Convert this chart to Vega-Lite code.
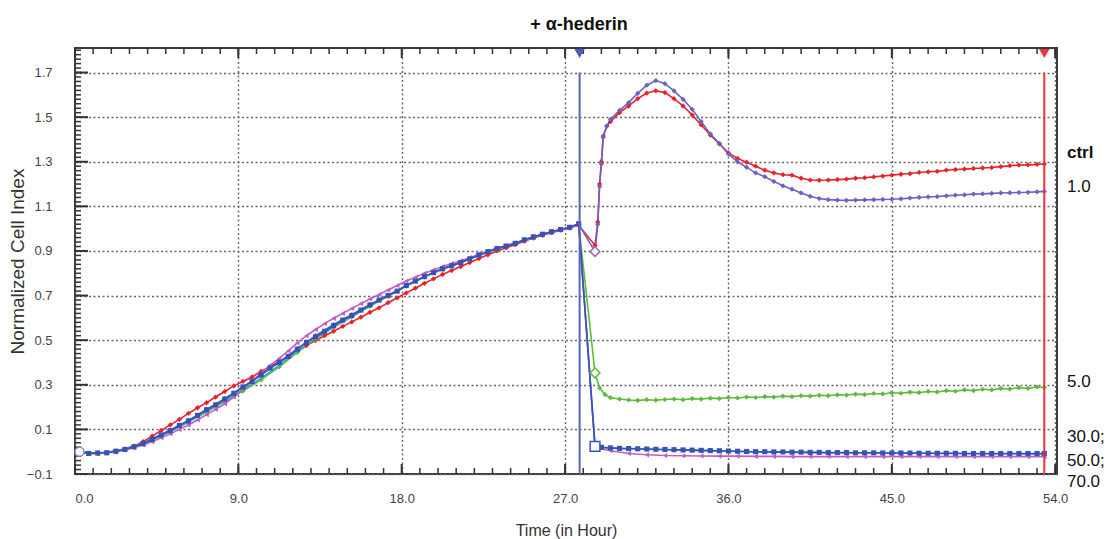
{
  "$schema": "https://vega.github.io/schema/vega-lite/v6.json",
  "width": 982,
  "height": 426,
  "autosize": {"type": "none"},
  "padding": {"left": 75, "top": 48, "right": 52, "bottom": 65},
  "background": "white",
  "title": {"text": "+ α-hederin", "fontSize": 18, "fontWeight": "bold", "font": "Liberation Sans", "color": "#111", "anchor": "middle", "dx": 13, "offset": 14},
  "config": {
    "view": {"stroke": "#3a3a3a", "strokeWidth": 2},
    "axis": {"domain": false, "ticks": false, "gridColor": "#666", "gridDash": [2, 2.5], "gridWidth": 1.4, "gridOpacity": 1, "labelFont": "Liberation Sans", "labelFontSize": 13, "labelColor": "#444", "titleFont": "Liberation Sans", "titleFontWeight": "normal", "titleColor": "#333"}
  },
  "datasets": {
    "events": [{"event": "treatment", "h": 27.8}, {"event": "end", "h": 53.4}],
    "open": [{"dose": "1.0", "h": 28.65, "ci": 0.897}, {"dose": "5.0", "h": 28.65, "ci": 0.353}, {"dose": "70.0", "h": 28.65, "ci": 0.024}],
    "labels": [{"label": "ctrl", "h": 54.65, "ci": 1.338}, {"label": "1.0", "h": 54.65, "ci": 1.186}, {"label": "5.0", "h": 54.65, "ci": 0.314}, {"label": "30.0;", "h": 54.65, "ci": 0.068}, {"label": "50.0;", "h": 54.65, "ci": -0.04}, {"label": "70.0", "h": 54.65, "ci": -0.134}],
    "hours": [{"h":0},{"h":1},{"h":2},{"h":3},{"h":4},{"h":5},{"h":6},{"h":7},{"h":8},{"h":9},{"h":10},{"h":11},{"h":12},{"h":13},{"h":14},{"h":15},{"h":16},{"h":17},{"h":18},{"h":19},{"h":20},{"h":21},{"h":22},{"h":23},{"h":24},{"h":25},{"h":26},{"h":27},{"h":28},{"h":29},{"h":30},{"h":31},{"h":32},{"h":33},{"h":34},{"h":35},{"h":36},{"h":37},{"h":38},{"h":39},{"h":40},{"h":41},{"h":42},{"h":43},{"h":44},{"h":45},{"h":46},{"h":47},{"h":48},{"h":49},{"h":50},{"h":51},{"h":52},{"h":53},{"h":54}],
    "levels": [{"ci":-0.1},{"ci":-0.08},{"ci":-0.06},{"ci":-0.04},{"ci":-0.02},{"ci":0},{"ci":0.02},{"ci":0.04},{"ci":0.06},{"ci":0.08},{"ci":0.1},{"ci":0.12},{"ci":0.14},{"ci":0.16},{"ci":0.18},{"ci":0.2},{"ci":0.22},{"ci":0.24},{"ci":0.26},{"ci":0.28},{"ci":0.3},{"ci":0.32},{"ci":0.34},{"ci":0.36},{"ci":0.38},{"ci":0.4},{"ci":0.42},{"ci":0.44},{"ci":0.46},{"ci":0.48},{"ci":0.5},{"ci":0.52},{"ci":0.54},{"ci":0.56},{"ci":0.58},{"ci":0.6},{"ci":0.62},{"ci":0.64},{"ci":0.66},{"ci":0.68},{"ci":0.7},{"ci":0.72},{"ci":0.74},{"ci":0.76},{"ci":0.78},{"ci":0.8},{"ci":0.82},{"ci":0.84},{"ci":0.86},{"ci":0.88},{"ci":0.9},{"ci":0.92},{"ci":0.94},{"ci":0.96},{"ci":0.98},{"ci":1.0},{"ci":1.02},{"ci":1.04},{"ci":1.06},{"ci":1.08},{"ci":1.1},{"ci":1.12},{"ci":1.14},{"ci":1.16},{"ci":1.18},{"ci":1.2},{"ci":1.22},{"ci":1.24},{"ci":1.26},{"ci":1.28},{"ci":1.3},{"ci":1.32},{"ci":1.34},{"ci":1.36},{"ci":1.38},{"ci":1.4},{"ci":1.42},{"ci":1.44},{"ci":1.46},{"ci":1.48},{"ci":1.5},{"ci":1.52},{"ci":1.54},{"ci":1.56},{"ci":1.58},{"ci":1.6},{"ci":1.62},{"ci":1.64},{"ci":1.66},{"ci":1.68},{"ci":1.7},{"ci":1.72},{"ci":1.74},{"ci":1.76},{"ci":1.78},{"ci":1.8}],
    "cells": [
{"dose":"ctrl","h":0.25,"ci":0.0},{"dose":"ctrl","h":0.75,"ci":-0.008},{"dose":"ctrl","h":1.25,"ci":-0.006},{"dose":"ctrl","h":1.75,"ci":-0.004},{"dose":"ctrl","h":2.25,"ci":0.003},{"dose":"ctrl","h":2.75,"ci":0.012},{"dose":"ctrl","h":3.25,"ci":0.025},{"dose":"ctrl","h":3.75,"ci":0.045},{"dose":"ctrl","h":4.25,"ci":0.07},{"dose":"ctrl","h":4.75,"ci":0.095},{"dose":"ctrl","h":5.25,"ci":0.12},{"dose":"ctrl","h":5.75,"ci":0.145},{"dose":"ctrl","h":6.25,"ci":0.172},{"dose":"ctrl","h":6.75,"ci":0.197},{"dose":"ctrl","h":7.25,"ci":0.22},{"dose":"ctrl","h":7.75,"ci":0.245},{"dose":"ctrl","h":8.25,"ci":0.27},{"dose":"ctrl","h":8.75,"ci":0.295},{"dose":"ctrl","h":9.25,"ci":0.315},{"dose":"ctrl","h":9.75,"ci":0.335},{"dose":"ctrl","h":10.25,"ci":0.36},{"dose":"ctrl","h":10.75,"ci":0.382},{"dose":"ctrl","h":11.25,"ci":0.405},{"dose":"ctrl","h":11.75,"ci":0.428},{"dose":"ctrl","h":12.25,"ci":0.452},{"dose":"ctrl","h":12.75,"ci":0.476},{"dose":"ctrl","h":13.25,"ci":0.498},{"dose":"ctrl","h":13.75,"ci":0.52},{"dose":"ctrl","h":14.25,"ci":0.54},{"dose":"ctrl","h":14.75,"ci":0.562},{"dose":"ctrl","h":15.25,"ci":0.582},{"dose":"ctrl","h":15.75,"ci":0.603},{"dose":"ctrl","h":16.25,"ci":0.625},{"dose":"ctrl","h":16.75,"ci":0.645},{"dose":"ctrl","h":17.25,"ci":0.668},{"dose":"ctrl","h":17.75,"ci":0.69},{"dose":"ctrl","h":18.25,"ci":0.712},{"dose":"ctrl","h":18.75,"ci":0.733},{"dose":"ctrl","h":19.25,"ci":0.755},{"dose":"ctrl","h":19.75,"ci":0.775},{"dose":"ctrl","h":20.25,"ci":0.795},{"dose":"ctrl","h":20.75,"ci":0.812},{"dose":"ctrl","h":21.25,"ci":0.83},{"dose":"ctrl","h":21.75,"ci":0.848},{"dose":"ctrl","h":22.25,"ci":0.866},{"dose":"ctrl","h":22.75,"ci":0.883},{"dose":"ctrl","h":23.25,"ci":0.9},{"dose":"ctrl","h":23.75,"ci":0.914},{"dose":"ctrl","h":24.25,"ci":0.928},{"dose":"ctrl","h":24.75,"ci":0.944},{"dose":"ctrl","h":25.25,"ci":0.958},{"dose":"ctrl","h":25.75,"ci":0.97},{"dose":"ctrl","h":26.25,"ci":0.982},{"dose":"ctrl","h":26.75,"ci":0.993},{"dose":"ctrl","h":27.25,"ci":1.003},{"dose":"ctrl","h":27.75,"ci":1.015},
{"dose":"ctrl","h":28.65,"ci":0.925},{"dose":"ctrl","h":28.8,"ci":1.03},{"dose":"ctrl","h":28.9,"ci":1.2},{"dose":"ctrl","h":29.0,"ci":1.3},{"dose":"ctrl","h":29.1,"ci":1.415},{"dose":"ctrl","h":29.3,"ci":1.46},{"dose":"ctrl","h":29.5,"ci":1.48},{"dose":"ctrl","h":30.0,"ci":1.52},{"dose":"ctrl","h":30.5,"ci":1.55},{"dose":"ctrl","h":31.0,"ci":1.583},{"dose":"ctrl","h":31.5,"ci":1.608},{"dose":"ctrl","h":32.0,"ci":1.618},{"dose":"ctrl","h":32.5,"ci":1.61},{"dose":"ctrl","h":33.0,"ci":1.583},{"dose":"ctrl","h":33.5,"ci":1.55},{"dose":"ctrl","h":34.0,"ci":1.51},{"dose":"ctrl","h":34.5,"ci":1.465},{"dose":"ctrl","h":35.0,"ci":1.42},{"dose":"ctrl","h":35.5,"ci":1.38},{"dose":"ctrl","h":36.0,"ci":1.34},{"dose":"ctrl","h":36.5,"ci":1.315},{"dose":"ctrl","h":37.0,"ci":1.298},{"dose":"ctrl","h":37.5,"ci":1.28},{"dose":"ctrl","h":38.0,"ci":1.262},{"dose":"ctrl","h":38.5,"ci":1.25},{"dose":"ctrl","h":39.0,"ci":1.242},{"dose":"ctrl","h":39.5,"ci":1.24},{"dose":"ctrl","h":40.0,"ci":1.226},{"dose":"ctrl","h":40.5,"ci":1.218},{"dose":"ctrl","h":41.0,"ci":1.217},{"dose":"ctrl","h":41.5,"ci":1.218},{"dose":"ctrl","h":42.0,"ci":1.22},{"dose":"ctrl","h":42.5,"ci":1.222},{"dose":"ctrl","h":43.0,"ci":1.226},{"dose":"ctrl","h":43.5,"ci":1.228},{"dose":"ctrl","h":44.0,"ci":1.232},{"dose":"ctrl","h":44.5,"ci":1.236},{"dose":"ctrl","h":45.0,"ci":1.24},{"dose":"ctrl","h":45.5,"ci":1.244},{"dose":"ctrl","h":46.0,"ci":1.247},{"dose":"ctrl","h":46.5,"ci":1.252},{"dose":"ctrl","h":47.0,"ci":1.255},{"dose":"ctrl","h":47.5,"ci":1.257},{"dose":"ctrl","h":48.0,"ci":1.262},{"dose":"ctrl","h":48.5,"ci":1.265},{"dose":"ctrl","h":49.0,"ci":1.267},{"dose":"ctrl","h":49.5,"ci":1.27},{"dose":"ctrl","h":50.0,"ci":1.272},{"dose":"ctrl","h":50.5,"ci":1.274},{"dose":"ctrl","h":51.0,"ci":1.278},{"dose":"ctrl","h":51.5,"ci":1.282},{"dose":"ctrl","h":52.0,"ci":1.285},{"dose":"ctrl","h":52.5,"ci":1.286},{"dose":"ctrl","h":53.0,"ci":1.288},{"dose":"ctrl","h":53.4,"ci":1.29},
{"dose":"1.0","h":0.25,"ci":0.0},{"dose":"1.0","h":1.25,"ci":-0.006},{"dose":"1.0","h":2.25,"ci":0.003},{"dose":"1.0","h":3.25,"ci":0.024},{"dose":"1.0","h":4.25,"ci":0.058},{"dose":"1.0","h":5.25,"ci":0.097},{"dose":"1.0","h":6.25,"ci":0.14},{"dose":"1.0","h":7.25,"ci":0.19},{"dose":"1.0","h":8.25,"ci":0.238},{"dose":"1.0","h":9.25,"ci":0.29},{"dose":"1.0","h":10.25,"ci":0.345},{"dose":"1.0","h":11.25,"ci":0.402},{"dose":"1.0","h":12.25,"ci":0.462},{"dose":"1.0","h":13.25,"ci":0.52},{"dose":"1.0","h":14.25,"ci":0.57},{"dose":"1.0","h":15.25,"ci":0.615},{"dose":"1.0","h":16.25,"ci":0.66},{"dose":"1.0","h":17.25,"ci":0.702},{"dose":"1.0","h":18.25,"ci":0.745},{"dose":"1.0","h":19.25,"ci":0.785},{"dose":"1.0","h":20.25,"ci":0.82},{"dose":"1.0","h":21.25,"ci":0.849},{"dose":"1.0","h":22.25,"ci":0.882},{"dose":"1.0","h":23.25,"ci":0.911},{"dose":"1.0","h":24.25,"ci":0.934},{"dose":"1.0","h":25.25,"ci":0.963},{"dose":"1.0","h":26.25,"ci":0.986},{"dose":"1.0","h":27.25,"ci":1.006},{"dose":"1.0","h":27.75,"ci":1.02},
{"dose":"1.0","h":28.65,"ci":0.897},{"dose":"1.0","h":28.8,"ci":1.02},{"dose":"1.0","h":28.9,"ci":1.19},{"dose":"1.0","h":29.0,"ci":1.29},{"dose":"1.0","h":29.1,"ci":1.41},{"dose":"1.0","h":29.3,"ci":1.46},{"dose":"1.0","h":29.5,"ci":1.49},{"dose":"1.0","h":30.0,"ci":1.53},{"dose":"1.0","h":30.5,"ci":1.565},{"dose":"1.0","h":31.0,"ci":1.607},{"dose":"1.0","h":31.5,"ci":1.643},{"dose":"1.0","h":32.0,"ci":1.664},{"dose":"1.0","h":32.5,"ci":1.65},{"dose":"1.0","h":33.0,"ci":1.618},{"dose":"1.0","h":33.5,"ci":1.58},{"dose":"1.0","h":34.0,"ci":1.535},{"dose":"1.0","h":34.5,"ci":1.48},{"dose":"1.0","h":35.0,"ci":1.425},{"dose":"1.0","h":35.5,"ci":1.382},{"dose":"1.0","h":36.0,"ci":1.335},{"dose":"1.0","h":36.5,"ci":1.3},{"dose":"1.0","h":37.0,"ci":1.275},{"dose":"1.0","h":37.5,"ci":1.25},{"dose":"1.0","h":38.0,"ci":1.233},{"dose":"1.0","h":38.5,"ci":1.212},{"dose":"1.0","h":39.0,"ci":1.192},{"dose":"1.0","h":39.5,"ci":1.177},{"dose":"1.0","h":40.0,"ci":1.16},{"dose":"1.0","h":40.5,"ci":1.145},{"dose":"1.0","h":41.0,"ci":1.135},{"dose":"1.0","h":41.5,"ci":1.13},{"dose":"1.0","h":42.0,"ci":1.128},{"dose":"1.0","h":42.5,"ci":1.127},{"dose":"1.0","h":43.0,"ci":1.128},{"dose":"1.0","h":43.5,"ci":1.129},{"dose":"1.0","h":44.0,"ci":1.13},{"dose":"1.0","h":44.5,"ci":1.131},{"dose":"1.0","h":45.0,"ci":1.132},{"dose":"1.0","h":45.5,"ci":1.134},{"dose":"1.0","h":46.0,"ci":1.137},{"dose":"1.0","h":46.5,"ci":1.14},{"dose":"1.0","h":47.0,"ci":1.142},{"dose":"1.0","h":47.5,"ci":1.144},{"dose":"1.0","h":48.0,"ci":1.147},{"dose":"1.0","h":48.5,"ci":1.15},{"dose":"1.0","h":49.0,"ci":1.152},{"dose":"1.0","h":49.5,"ci":1.155},{"dose":"1.0","h":50.0,"ci":1.156},{"dose":"1.0","h":50.5,"ci":1.158},{"dose":"1.0","h":51.0,"ci":1.16},{"dose":"1.0","h":51.5,"ci":1.161},{"dose":"1.0","h":52.0,"ci":1.162},{"dose":"1.0","h":52.5,"ci":1.163},{"dose":"1.0","h":53.0,"ci":1.165},{"dose":"1.0","h":53.4,"ci":1.167},
{"dose":"5.0","h":0.25,"ci":0.0},{"dose":"5.0","h":1.25,"ci":-0.008},{"dose":"5.0","h":2.25,"ci":0.0},{"dose":"5.0","h":3.25,"ci":0.02},{"dose":"5.0","h":4.25,"ci":0.052},{"dose":"5.0","h":5.25,"ci":0.09},{"dose":"5.0","h":6.25,"ci":0.132},{"dose":"5.0","h":7.25,"ci":0.178},{"dose":"5.0","h":8.25,"ci":0.225},{"dose":"5.0","h":9.25,"ci":0.272},{"dose":"5.0","h":10.25,"ci":0.322},{"dose":"5.0","h":11.25,"ci":0.38},{"dose":"5.0","h":12.25,"ci":0.445},{"dose":"5.0","h":13.25,"ci":0.505},{"dose":"5.0","h":14.25,"ci":0.558},{"dose":"5.0","h":15.25,"ci":0.605},{"dose":"5.0","h":16.25,"ci":0.652},{"dose":"5.0","h":17.25,"ci":0.697},{"dose":"5.0","h":18.25,"ci":0.742},{"dose":"5.0","h":19.25,"ci":0.783},{"dose":"5.0","h":20.25,"ci":0.818},{"dose":"5.0","h":21.25,"ci":0.847},{"dose":"5.0","h":22.25,"ci":0.88},{"dose":"5.0","h":23.25,"ci":0.909},{"dose":"5.0","h":24.25,"ci":0.933},{"dose":"5.0","h":25.25,"ci":0.962},{"dose":"5.0","h":26.25,"ci":0.985},{"dose":"5.0","h":27.25,"ci":1.005},{"dose":"5.0","h":27.75,"ci":1.02},
{"dose":"5.0","h":28.65,"ci":0.353},{"dose":"5.0","h":28.9,"ci":0.286},{"dose":"5.0","h":29.2,"ci":0.256},{"dose":"5.0","h":29.5,"ci":0.242},{"dose":"5.0","h":30.0,"ci":0.236},{"dose":"5.0","h":30.5,"ci":0.232},{"dose":"5.0","h":31.0,"ci":0.23},{"dose":"5.0","h":31.5,"ci":0.233},{"dose":"5.0","h":32.0,"ci":0.231},{"dose":"5.0","h":32.5,"ci":0.234},{"dose":"5.0","h":33.0,"ci":0.236},{"dose":"5.0","h":33.5,"ci":0.233},{"dose":"5.0","h":34.0,"ci":0.238},{"dose":"5.0","h":34.5,"ci":0.236},{"dose":"5.0","h":35.0,"ci":0.24},{"dose":"5.0","h":35.5,"ci":0.238},{"dose":"5.0","h":36.0,"ci":0.243},{"dose":"5.0","h":36.5,"ci":0.241},{"dose":"5.0","h":37.0,"ci":0.245},{"dose":"5.0","h":37.5,"ci":0.243},{"dose":"5.0","h":38.0,"ci":0.247},{"dose":"5.0","h":38.5,"ci":0.245},{"dose":"5.0","h":39.0,"ci":0.249},{"dose":"5.0","h":39.5,"ci":0.247},{"dose":"5.0","h":40.0,"ci":0.251},{"dose":"5.0","h":40.5,"ci":0.249},{"dose":"5.0","h":41.0,"ci":0.253},{"dose":"5.0","h":41.5,"ci":0.251},{"dose":"5.0","h":42.0,"ci":0.255},{"dose":"5.0","h":42.5,"ci":0.254},{"dose":"5.0","h":43.0,"ci":0.258},{"dose":"5.0","h":43.5,"ci":0.256},{"dose":"5.0","h":44.0,"ci":0.261},{"dose":"5.0","h":44.5,"ci":0.259},{"dose":"5.0","h":45.0,"ci":0.264},{"dose":"5.0","h":45.5,"ci":0.262},{"dose":"5.0","h":46.0,"ci":0.267},{"dose":"5.0","h":46.5,"ci":0.265},{"dose":"5.0","h":47.0,"ci":0.27},{"dose":"5.0","h":47.5,"ci":0.268},{"dose":"5.0","h":48.0,"ci":0.274},{"dose":"5.0","h":48.5,"ci":0.271},{"dose":"5.0","h":49.0,"ci":0.277},{"dose":"5.0","h":49.5,"ci":0.274},{"dose":"5.0","h":50.0,"ci":0.28},{"dose":"5.0","h":50.5,"ci":0.277},{"dose":"5.0","h":51.0,"ci":0.284},{"dose":"5.0","h":51.5,"ci":0.281},{"dose":"5.0","h":52.0,"ci":0.287},{"dose":"5.0","h":52.5,"ci":0.284},{"dose":"5.0","h":53.0,"ci":0.29},{"dose":"5.0","h":53.4,"ci":0.288},
{"dose":"30.0","h":0.25,"ci":0.0},{"dose":"30.0","h":1.25,"ci":-0.007},{"dose":"30.0","h":2.25,"ci":0.001},{"dose":"30.0","h":3.25,"ci":0.021},{"dose":"30.0","h":4.25,"ci":0.053},{"dose":"30.0","h":5.25,"ci":0.092},{"dose":"30.0","h":6.25,"ci":0.135},{"dose":"30.0","h":7.25,"ci":0.183},{"dose":"30.0","h":8.25,"ci":0.23},{"dose":"30.0","h":9.25,"ci":0.278},{"dose":"30.0","h":10.25,"ci":0.33},{"dose":"30.0","h":11.25,"ci":0.388},{"dose":"30.0","h":12.25,"ci":0.45},{"dose":"30.0","h":13.25,"ci":0.508},{"dose":"30.0","h":14.25,"ci":0.56},{"dose":"30.0","h":15.25,"ci":0.607},{"dose":"30.0","h":16.25,"ci":0.655},{"dose":"30.0","h":17.25,"ci":0.699},{"dose":"30.0","h":18.25,"ci":0.744},{"dose":"30.0","h":19.25,"ci":0.784},{"dose":"30.0","h":20.25,"ci":0.819},{"dose":"30.0","h":21.25,"ci":0.848},{"dose":"30.0","h":22.25,"ci":0.881},{"dose":"30.0","h":23.25,"ci":0.91},{"dose":"30.0","h":24.25,"ci":0.933},{"dose":"30.0","h":25.25,"ci":0.962},{"dose":"30.0","h":26.25,"ci":0.985},{"dose":"30.0","h":27.25,"ci":1.005},{"dose":"30.0","h":27.75,"ci":1.02},
{"dose":"30.0","h":28.65,"ci":0.022},{"dose":"30.0","h":29.5,"ci":0.016},{"dose":"30.0","h":30.5,"ci":0.013},{"dose":"30.0","h":31.5,"ci":0.011},{"dose":"30.0","h":32.5,"ci":0.009},{"dose":"30.0","h":33.5,"ci":0.007},{"dose":"30.0","h":34.5,"ci":0.005},{"dose":"30.0","h":35.5,"ci":0.003},{"dose":"30.0","h":36.5,"ci":0.001},{"dose":"30.0","h":37.5,"ci":-0.001},{"dose":"30.0","h":38.5,"ci":-0.002},{"dose":"30.0","h":39.5,"ci":-0.003},{"dose":"30.0","h":40.5,"ci":-0.004},{"dose":"30.0","h":41.5,"ci":-0.005},{"dose":"30.0","h":42.5,"ci":-0.005},{"dose":"30.0","h":43.5,"ci":-0.006},{"dose":"30.0","h":44.5,"ci":-0.006},{"dose":"30.0","h":45.5,"ci":-0.007},{"dose":"30.0","h":46.5,"ci":-0.007},{"dose":"30.0","h":47.5,"ci":-0.008},{"dose":"30.0","h":48.5,"ci":-0.008},{"dose":"30.0","h":49.5,"ci":-0.009},{"dose":"30.0","h":50.5,"ci":-0.009},{"dose":"30.0","h":51.5,"ci":-0.009},{"dose":"30.0","h":52.5,"ci":-0.01},{"dose":"30.0","h":53.4,"ci":-0.01},
{"dose":"50.0","h":0.25,"ci":0.0},{"dose":"50.0","h":0.75,"ci":-0.01},{"dose":"50.0","h":1.25,"ci":-0.008},{"dose":"50.0","h":1.75,"ci":-0.006},{"dose":"50.0","h":2.25,"ci":0.0},{"dose":"50.0","h":2.75,"ci":0.008},{"dose":"50.0","h":3.25,"ci":0.018},{"dose":"50.0","h":3.75,"ci":0.03},{"dose":"50.0","h":4.25,"ci":0.045},{"dose":"50.0","h":4.75,"ci":0.062},{"dose":"50.0","h":5.25,"ci":0.08},{"dose":"50.0","h":5.75,"ci":0.1},{"dose":"50.0","h":6.25,"ci":0.12},{"dose":"50.0","h":6.75,"ci":0.142},{"dose":"50.0","h":7.25,"ci":0.166},{"dose":"50.0","h":7.75,"ci":0.19},{"dose":"50.0","h":8.25,"ci":0.215},{"dose":"50.0","h":8.75,"ci":0.245},{"dose":"50.0","h":9.25,"ci":0.28},{"dose":"50.0","h":9.75,"ci":0.318},{"dose":"50.0","h":10.25,"ci":0.352},{"dose":"50.0","h":10.75,"ci":0.386},{"dose":"50.0","h":11.25,"ci":0.418},{"dose":"50.0","h":11.75,"ci":0.452},{"dose":"50.0","h":12.25,"ci":0.488},{"dose":"50.0","h":12.75,"ci":0.52},{"dose":"50.0","h":13.25,"ci":0.548},{"dose":"50.0","h":13.75,"ci":0.574},{"dose":"50.0","h":14.25,"ci":0.598},{"dose":"50.0","h":14.75,"ci":0.62},{"dose":"50.0","h":15.25,"ci":0.642},{"dose":"50.0","h":15.75,"ci":0.664},{"dose":"50.0","h":16.25,"ci":0.685},{"dose":"50.0","h":16.75,"ci":0.705},{"dose":"50.0","h":17.25,"ci":0.725},{"dose":"50.0","h":17.75,"ci":0.745},{"dose":"50.0","h":18.25,"ci":0.765},{"dose":"50.0","h":18.75,"ci":0.782},{"dose":"50.0","h":19.25,"ci":0.8},{"dose":"50.0","h":19.75,"ci":0.815},{"dose":"50.0","h":20.25,"ci":0.83},{"dose":"50.0","h":20.75,"ci":0.843},{"dose":"50.0","h":21.25,"ci":0.856},{"dose":"50.0","h":21.75,"ci":0.87},{"dose":"50.0","h":22.25,"ci":0.885},{"dose":"50.0","h":22.75,"ci":0.9},{"dose":"50.0","h":23.25,"ci":0.913},{"dose":"50.0","h":23.75,"ci":0.924},{"dose":"50.0","h":24.25,"ci":0.936},{"dose":"50.0","h":24.75,"ci":0.95},{"dose":"50.0","h":25.25,"ci":0.963},{"dose":"50.0","h":25.75,"ci":0.975},{"dose":"50.0","h":26.25,"ci":0.985},{"dose":"50.0","h":26.75,"ci":0.995},{"dose":"50.0","h":27.25,"ci":1.005},{"dose":"50.0","h":27.75,"ci":1.02},
{"dose":"50.0","h":28.65,"ci":0.02},{"dose":"50.0","h":29.5,"ci":0.004},{"dose":"50.0","h":30.5,"ci":-0.008},{"dose":"50.0","h":31.5,"ci":-0.014},{"dose":"50.0","h":32.5,"ci":-0.017},{"dose":"50.0","h":33.5,"ci":-0.018},{"dose":"50.0","h":34.5,"ci":-0.019},{"dose":"50.0","h":35.5,"ci":-0.02},{"dose":"50.0","h":36.5,"ci":-0.02},{"dose":"50.0","h":37.5,"ci":-0.021},{"dose":"50.0","h":38.5,"ci":-0.021},{"dose":"50.0","h":39.5,"ci":-0.022},{"dose":"50.0","h":40.5,"ci":-0.022},{"dose":"50.0","h":41.5,"ci":-0.022},{"dose":"50.0","h":42.5,"ci":-0.022},{"dose":"50.0","h":43.5,"ci":-0.022},{"dose":"50.0","h":44.5,"ci":-0.022},{"dose":"50.0","h":45.5,"ci":-0.022},{"dose":"50.0","h":46.5,"ci":-0.022},{"dose":"50.0","h":47.5,"ci":-0.022},{"dose":"50.0","h":48.5,"ci":-0.022},{"dose":"50.0","h":49.5,"ci":-0.022},{"dose":"50.0","h":50.5,"ci":-0.022},{"dose":"50.0","h":51.5,"ci":-0.022},{"dose":"50.0","h":52.5,"ci":-0.022},{"dose":"50.0","h":53.4,"ci":-0.022},
{"dose":"70.0","h":0.25,"ci":0.0},{"dose":"70.0","h":0.75,"ci":-0.008},{"dose":"70.0","h":1.25,"ci":-0.006},{"dose":"70.0","h":1.75,"ci":-0.005},{"dose":"70.0","h":2.25,"ci":0.002},{"dose":"70.0","h":2.75,"ci":0.01},{"dose":"70.0","h":3.25,"ci":0.022},{"dose":"70.0","h":3.75,"ci":0.036},{"dose":"70.0","h":4.25,"ci":0.055},{"dose":"70.0","h":4.75,"ci":0.075},{"dose":"70.0","h":5.25,"ci":0.094},{"dose":"70.0","h":5.75,"ci":0.118},{"dose":"70.0","h":6.25,"ci":0.138},{"dose":"70.0","h":6.75,"ci":0.163},{"dose":"70.0","h":7.25,"ci":0.188},{"dose":"70.0","h":7.75,"ci":0.21},{"dose":"70.0","h":8.25,"ci":0.236},{"dose":"70.0","h":8.75,"ci":0.262},{"dose":"70.0","h":9.25,"ci":0.29},{"dose":"70.0","h":9.75,"ci":0.315},{"dose":"70.0","h":10.25,"ci":0.345},{"dose":"70.0","h":10.75,"ci":0.375},{"dose":"70.0","h":11.25,"ci":0.4},{"dose":"70.0","h":11.75,"ci":0.427},{"dose":"70.0","h":12.25,"ci":0.46},{"dose":"70.0","h":12.75,"ci":0.49},{"dose":"70.0","h":13.25,"ci":0.515},{"dose":"70.0","h":13.75,"ci":0.54},{"dose":"70.0","h":14.25,"ci":0.565},{"dose":"70.0","h":14.75,"ci":0.59},{"dose":"70.0","h":15.25,"ci":0.61},{"dose":"70.0","h":15.75,"ci":0.635},{"dose":"70.0","h":16.25,"ci":0.658},{"dose":"70.0","h":16.75,"ci":0.68},{"dose":"70.0","h":17.25,"ci":0.7},{"dose":"70.0","h":17.75,"ci":0.72},{"dose":"70.0","h":18.25,"ci":0.745},{"dose":"70.0","h":18.75,"ci":0.765},{"dose":"70.0","h":19.25,"ci":0.785},{"dose":"70.0","h":19.75,"ci":0.803},{"dose":"70.0","h":20.25,"ci":0.82},{"dose":"70.0","h":20.75,"ci":0.834},{"dose":"70.0","h":21.25,"ci":0.848},{"dose":"70.0","h":21.75,"ci":0.865},{"dose":"70.0","h":22.25,"ci":0.882},{"dose":"70.0","h":22.75,"ci":0.897},{"dose":"70.0","h":23.25,"ci":0.911},{"dose":"70.0","h":23.75,"ci":0.922},{"dose":"70.0","h":24.25,"ci":0.934},{"dose":"70.0","h":24.75,"ci":0.95},{"dose":"70.0","h":25.25,"ci":0.963},{"dose":"70.0","h":25.75,"ci":0.975},{"dose":"70.0","h":26.25,"ci":0.986},{"dose":"70.0","h":26.75,"ci":0.996},{"dose":"70.0","h":27.25,"ci":1.006},{"dose":"70.0","h":27.75,"ci":1.022},
{"dose":"70.0","h":28.65,"ci":0.024},{"dose":"70.0","h":29.0,"ci":0.02},{"dose":"70.0","h":29.5,"ci":0.017},{"dose":"70.0","h":30.0,"ci":0.015},{"dose":"70.0","h":30.5,"ci":0.014},{"dose":"70.0","h":31.0,"ci":0.013},{"dose":"70.0","h":31.5,"ci":0.012},{"dose":"70.0","h":32.0,"ci":0.011},{"dose":"70.0","h":32.5,"ci":0.01},{"dose":"70.0","h":33.0,"ci":0.009},{"dose":"70.0","h":33.5,"ci":0.008},{"dose":"70.0","h":34.0,"ci":0.007},{"dose":"70.0","h":34.5,"ci":0.006},{"dose":"70.0","h":35.0,"ci":0.005},{"dose":"70.0","h":35.5,"ci":0.004},{"dose":"70.0","h":36.0,"ci":0.003},{"dose":"70.0","h":36.5,"ci":0.002},{"dose":"70.0","h":37.0,"ci":0.001},{"dose":"70.0","h":37.5,"ci":0.0},{"dose":"70.0","h":38.0,"ci":0.0},{"dose":"70.0","h":38.5,"ci":-0.001},{"dose":"70.0","h":39.0,"ci":-0.001},{"dose":"70.0","h":39.5,"ci":-0.002},{"dose":"70.0","h":40.0,"ci":-0.002},{"dose":"70.0","h":40.5,"ci":-0.003},{"dose":"70.0","h":41.0,"ci":-0.003},{"dose":"70.0","h":41.5,"ci":-0.004},{"dose":"70.0","h":42.0,"ci":-0.004},{"dose":"70.0","h":42.5,"ci":-0.004},{"dose":"70.0","h":43.0,"ci":-0.005},{"dose":"70.0","h":43.5,"ci":-0.005},{"dose":"70.0","h":44.0,"ci":-0.005},{"dose":"70.0","h":44.5,"ci":-0.006},{"dose":"70.0","h":45.0,"ci":-0.006},{"dose":"70.0","h":45.5,"ci":-0.006},{"dose":"70.0","h":46.0,"ci":-0.006},{"dose":"70.0","h":46.5,"ci":-0.007},{"dose":"70.0","h":47.0,"ci":-0.007},{"dose":"70.0","h":47.5,"ci":-0.007},{"dose":"70.0","h":48.0,"ci":-0.007},{"dose":"70.0","h":48.5,"ci":-0.007},{"dose":"70.0","h":49.0,"ci":-0.008},{"dose":"70.0","h":49.5,"ci":-0.008},{"dose":"70.0","h":50.0,"ci":-0.008},{"dose":"70.0","h":50.5,"ci":-0.008},{"dose":"70.0","h":51.0,"ci":-0.008},{"dose":"70.0","h":51.5,"ci":-0.008},{"dose":"70.0","h":52.0,"ci":-0.008},{"dose":"70.0","h":52.5,"ci":-0.008},{"dose":"70.0","h":53.0,"ci":-0.008},{"dose":"70.0","h":53.4,"ci":-0.008}
    ]
  },
  "resolve": {"scale": {"color": "independent"}},
  "layer": [
    {
      "data": {"name": "cells"},
      "mark": {"type": "line", "strokeWidth": 1.6},
      "encoding": {
        "x": {"field": "h", "type": "quantitative", "scale": {"domain": [0, 54.1], "nice": false, "zero": false},
              "axis": {"orient": "bottom", "values": [0, 9, 18, 27, 36, 45, 54], "format": ".1f", "labelPadding": 18, "grid": true, "title": "Time (in Hour)", "titleFontSize": 16, "titlePadding": 17}},
        "y": {"field": "ci", "type": "quantitative", "scale": {"domain": [-0.1, 1.81], "nice": false, "zero": false},
              "axis": {"orient": "left", "values": [-0.1, 0.1, 0.3, 0.5, 0.7, 0.9, 1.1, 1.3, 1.5, 1.7], "format": ".1f", "labelPadding": 23, "grid": true, "title": "Normalized Cell Index", "titleFontSize": 19, "titlePadding": -1}},
        "color": {"field": "dose", "type": "nominal", "legend": null,
                  "scale": {"domain": ["ctrl", "1.0", "5.0", "30.0", "50.0", "70.0"], "range": ["#e8222a", "#6a62c4", "#5cbb38", "#2ea7d8", "#c25cc6", "#3552b4"]}}
      }
    },
    {
      "data": {"name": "cells"},
      "mark": {"type": "point", "filled": true, "opacity": 1},
      "encoding": {
        "x": {"field": "h", "type": "quantitative"},
        "y": {"field": "ci", "type": "quantitative"},
        "color": {"field": "dose", "type": "nominal", "legend": null,
                  "scale": {"domain": ["ctrl", "1.0", "5.0", "30.0", "50.0", "70.0"], "range": ["#e8222a", "#6a62c4", "#5cbb38", "#2ea7d8", "#c25cc6", "#3552b4"]}},
        "shape": {"field": "dose", "type": "nominal", "legend": null,
                  "scale": {"domain": ["ctrl", "1.0", "5.0", "30.0", "50.0", "70.0"], "range": ["diamond", "diamond", "diamond", "triangle-down", "triangle-left", "square"]}},
        "size": {"field": "dose", "type": "nominal", "legend": null,
                 "scale": {"domain": ["ctrl", "1.0", "5.0", "30.0", "50.0", "70.0"], "range": [28, 26, 32, 36, 42, 66]}}
      }
    },
    {
      "data": {"name": "hours"},
      "mark": {"type": "tick", "orient": "vertical", "color": "#333", "opacity": 1, "thickness": 1.5, "size": 6, "yOffset": -3},
      "encoding": {"x": {"field": "h", "type": "quantitative"}, "y": {"datum": -0.1}}
    },
    {
      "data": {"name": "hours"},
      "transform": [{"filter": "datum.h % 9 === 0"}],
      "mark": {"type": "tick", "orient": "vertical", "color": "#333", "opacity": 1, "thickness": 2, "size": 10, "yOffset": -5},
      "encoding": {"x": {"field": "h", "type": "quantitative"}, "y": {"datum": -0.1}}
    },
    {
      "data": {"name": "hours"},
      "mark": {"type": "tick", "orient": "vertical", "color": "#333", "opacity": 1, "thickness": 1.5, "size": 6, "yOffset": 3},
      "encoding": {"x": {"field": "h", "type": "quantitative"}, "y": {"datum": 1.81}}
    },
    {
      "data": {"name": "hours"},
      "transform": [{"filter": "datum.h % 9 === 0"}],
      "mark": {"type": "tick", "orient": "vertical", "color": "#333", "opacity": 1, "thickness": 2, "size": 10, "yOffset": 5},
      "encoding": {"x": {"field": "h", "type": "quantitative"}, "y": {"datum": 1.81}}
    },
    {
      "data": {"name": "levels"},
      "mark": {"type": "tick", "orient": "horizontal", "color": "#333", "opacity": 1, "thickness": 1.5, "size": 6, "xOffset": 3},
      "encoding": {"y": {"field": "ci", "type": "quantitative"}, "x": {"datum": 0}}
    },
    {
      "data": {"name": "levels"},
      "transform": [{"filter": "abs((datum.ci + 0.1) * 5 - round((datum.ci + 0.1) * 5)) < 0.01 && datum.ci < 1.75"}],
      "mark": {"type": "tick", "orient": "horizontal", "color": "#333", "opacity": 1, "thickness": 2, "size": 13, "xOffset": 6.5},
      "encoding": {"y": {"field": "ci", "type": "quantitative"}, "x": {"datum": 0}}
    },
    {
      "data": {"name": "events"},
      "mark": {"type": "rule", "strokeWidth": 2},
      "encoding": {
        "x": {"field": "h", "type": "quantitative"},
        "y": {"datum": 1.7},
        "y2": {"datum": -0.1},
        "color": {"field": "event", "type": "nominal", "legend": null, "scale": {"domain": ["treatment", "end"], "range": ["#5565c0", "#e8343a"]}}
      }
    },
    {
      "data": {"name": "events"},
      "mark": {"type": "point", "shape": "triangle-down", "filled": true, "opacity": 1, "size": 110},
      "encoding": {
        "x": {"field": "h", "type": "quantitative"},
        "y": {"datum": 1.785},
        "color": {"field": "event", "type": "nominal", "legend": null, "scale": {"domain": ["treatment", "end"], "range": ["#4a5cbc", "#e8343a"]}}
      }
    },
    {
      "data": {"name": "open"},
      "mark": {"type": "point", "filled": true, "fill": "white", "opacity": 1, "size": 95, "strokeWidth": 1.5},
      "encoding": {
        "x": {"field": "h", "type": "quantitative"},
        "y": {"field": "ci", "type": "quantitative"},
        "shape": {"field": "dose", "type": "nominal", "legend": null},
        "stroke": {"field": "dose", "type": "nominal", "legend": null, "scale": {"domain": ["1.0", "5.0", "70.0"], "range": ["#9a6cb8", "#5cbb38", "#3552b4"]}}
      }
    },
    {
      "data": {"name": "cells"},
      "transform": [{"filter": "datum.dose === '1.0' && datum.h === 0.25"}],
      "mark": {"type": "point", "shape": "circle", "filled": true, "fill": "white", "opacity": 1, "size": 80, "strokeWidth": 1.5, "stroke": "#8c84d4"},
      "encoding": {
        "x": {"field": "h", "type": "quantitative"},
        "y": {"field": "ci", "type": "quantitative"}
      }
    },
    {
      "data": {"name": "labels"},
      "transform": [{"filter": "datum.label === 'ctrl'"}],
      "mark": {"type": "text", "align": "left", "baseline": "middle", "font": "Liberation Sans", "fontSize": 17, "fontWeight": "bold", "color": "#111"},
      "encoding": {
        "x": {"field": "h", "type": "quantitative"},
        "y": {"field": "ci", "type": "quantitative"},
        "text": {"field": "label"}
      }
    },
    {
      "data": {"name": "labels"},
      "transform": [{"filter": "datum.label !== 'ctrl'"}],
      "mark": {"type": "text", "align": "left", "baseline": "middle", "font": "Liberation Sans", "fontSize": 17, "color": "#111"},
      "encoding": {
        "x": {"field": "h", "type": "quantitative"},
        "y": {"field": "ci", "type": "quantitative"},
        "text": {"field": "label"}
      }
    }
  ]
}
